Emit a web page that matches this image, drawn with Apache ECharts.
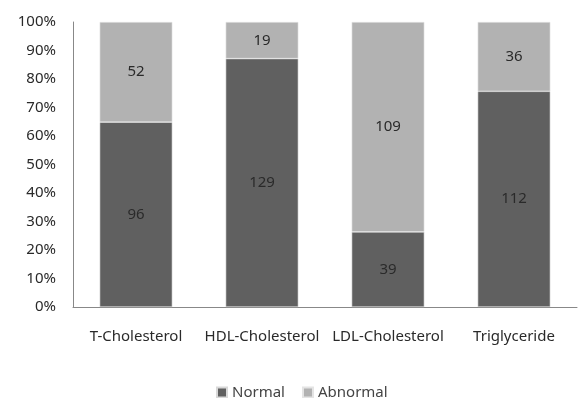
<!DOCTYPE html>
<html>
<head>
<meta charset="utf-8">
<style>
  html, body { margin: 0; padding: 0; background: #fff; }
  #chart { width: 579px; height: 398px; }
</style>
<script src="https://cdn.jsdelivr.net/npm/echarts@6/dist/echarts.min.js"></script>
</head>
<body>
<div id="chart"></div>
<script>
// Lipid panel results: counts per test, shown as 100% stacked bars
const categories = ['T-Cholesterol', 'HDL-Cholesterol', 'LDL-Cholesterol', 'Triglyceride'];
const normalCounts = [96, 129, 39, 112];
const abnormalCounts = [52, 19, 109, 36];
const yTicks = [0, 10, 20, 30, 40, 50, 60, 70, 80, 90, 100];

const totals = normalCounts.map((n, i) => n + abnormalCounts[i]);
const toShare = (arr) => arr.map((v, i) => ({ value: v / totals[i] * 100, count: v }));

const font = "'Noto Sans', 'DejaVu Sans', sans-serif";
const chart = echarts.init(document.getElementById('chart'), null, { renderer: 'canvas' });

const labelStyle = {
  show: true,
  position: 'inside',
  color: '#2a2a2a',
  fontSize: 15,
  fontFamily: font,
  formatter: (p) => String(p.data.count)
};

chart.setOption({
  animation: false,
  grid: { left: 73, right: 2, top: 22, bottom: 91 },
  xAxis: {
    type: 'category',
    data: categories,
    axisLine: { lineStyle: { color: '#888', width: 1 } },
    axisTick: { show: false },
    axisLabel: { color: '#2a2a2a', fontSize: 15, fontFamily: font, margin: 22, interval: 0 }
  },
  yAxis: {
    type: 'value',
    min: 0,
    max: 100,
    interval: 10,
    splitLine: { show: false },
    axisLine: { show: true, lineStyle: { color: '#888', width: 1 } },
    axisTick: { show: false },
    axisLabel: {
      color: '#2a2a2a', fontSize: 15, fontFamily: font, margin: 17,
      formatter: (v) => yTicks.includes(v) ? v + '%' : ''
    }
  },
  legend: {
    top: 380,
    left: 211,
    itemWidth: 10,
    itemHeight: 10,
    itemGap: 17,
    icon: 'rect',
    textStyle: { color: '#444', fontSize: 15, fontFamily: font },
    data: ['Normal', 'Abnormal']
  },
  series: [
    {
      name: 'Normal',
      type: 'bar',
      stack: 'total',
      barWidth: '57.7%',
      itemStyle: { color: '#606060', borderColor: '#d8d8d8', borderWidth: 0.6 },
      label: labelStyle,
      data: toShare(normalCounts)
    },
    {
      name: 'Abnormal',
      type: 'bar',
      stack: 'total',
      barWidth: '57.7%',
      itemStyle: { color: '#b2b2b2', borderColor: '#e4e4e4', borderWidth: 0.6 },
      label: labelStyle,
      data: toShare(abnormalCounts)
    }
  ]
});
</script>
</body>
</html>
